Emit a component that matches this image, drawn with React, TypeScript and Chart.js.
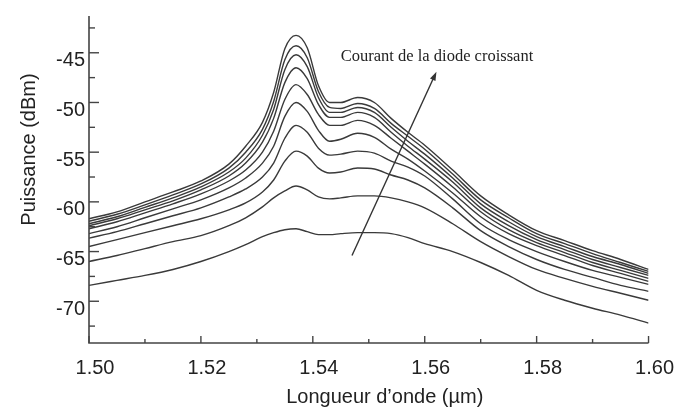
import React, { useEffect, useRef } from "react";
import { Chart, registerables } from "chart.js";

Chart.register(...registerables);

// Wavelength samples (µm)
const wavelengths = [
  1.5, 1.505, 1.51, 1.515, 1.52, 1.525, 1.528, 1.531, 1.533, 1.535, 1.537, 1.539, 1.541, 1.543,
  1.545, 1.548, 1.551, 1.554, 1.557, 1.56, 1.565, 1.57, 1.575, 1.58, 1.585, 1.59, 1.595, 1.6,
];

// Spectra (dBm), from highest diode current to lowest
const current1 = [
  -61.7, -61.0, -60.0, -59.0, -57.9, -56.2, -54.4, -52.0, -49.0, -44.6, -43.25, -44.5, -48.3, -50.0,
  -50.0, -49.5, -50.0, -51.6, -53.0, -54.3, -56.8, -59.4, -61.3, -62.9, -63.9, -64.9, -65.8, -66.8,
];
const current2 = [
  -61.95, -61.25, -60.3, -59.3, -58.2, -56.6, -55.0, -52.7, -49.9, -45.7, -44.3, -45.5, -48.9, -50.5,
  -50.6, -50.1, -50.6, -52.1, -53.4, -54.7, -57.2, -59.8, -61.6, -63.2, -64.2, -65.2, -66.1, -67.0,
];
const current3 = [
  -62.2, -61.5, -60.55, -59.6, -58.5, -57.0, -55.6, -53.3, -50.7, -46.7, -45.2, -46.4, -49.5, -51.0,
  -51.0, -50.5, -51.0, -52.5, -53.9, -55.2, -57.6, -60.2, -62.0, -63.5, -64.5, -65.5, -66.3, -67.2,
];
const current4 = [
  -62.4, -61.7, -60.8, -59.9, -58.8, -57.4, -56.1, -54.0, -51.6, -48.0, -46.5, -47.6, -50.2, -51.5,
  -51.5, -51.0, -51.5, -53.0, -54.4, -55.7, -58.0, -60.6, -62.4, -63.8, -64.8, -65.8, -66.6, -67.4,
];
const current5 = [
  -62.7, -62.0, -61.1, -60.2, -59.2, -57.9, -56.8, -55.0, -52.9, -49.7, -48.2, -49.2, -51.2, -52.3,
  -52.3, -51.8, -52.3, -53.6, -54.9, -56.2, -58.5, -61.0, -62.8, -64.1, -65.1, -66.1, -66.9, -67.7,
];
const current6 = [
  -63.2, -62.5, -61.6, -60.7, -59.8, -58.6, -57.6, -56.1, -54.4, -51.4, -50.0, -50.9, -52.8, -53.9,
  -53.7, -53.1, -53.5, -54.7, -55.7, -56.9, -59.1, -61.5, -63.2, -64.4, -65.4, -66.4, -67.2, -68.0,
];
const current7 = [
  -63.65, -63.0, -62.2, -61.4, -60.6, -59.5, -58.7, -57.5, -56.1, -53.6, -52.3, -53.0, -54.6, -55.3,
  -55.2, -54.9, -55.1, -55.9, -56.5, -57.4, -59.7, -62.2, -63.8, -65.0, -66.0, -66.9, -67.6, -68.3,
];
const current8 = [
  -64.5, -63.8, -63.1, -62.4, -61.7, -60.8, -60.1, -59.0, -57.8, -55.9, -54.9, -55.4, -56.6, -57.1,
  -57.0, -56.6, -56.7, -57.3, -57.8, -58.6, -60.6, -62.9, -64.5, -65.8, -66.8, -67.6, -68.4, -69.0,
];
const current9 = [
  -66.0, -65.4, -64.7, -64.0, -63.4, -62.4, -61.6, -60.5, -59.6, -58.9, -58.4, -58.8, -59.5, -59.7,
  -59.6, -59.4, -59.4, -59.6, -60.0, -60.6, -62.2, -64.0, -65.5, -66.8, -67.7, -68.5, -69.2, -69.9,
];
const current10 = [
  -68.4, -67.9, -67.4, -66.8, -66.0, -65.0, -64.3, -63.5, -63.1, -62.8, -62.7, -63.0, -63.3, -63.3,
  -63.2, -63.1, -63.1, -63.2, -63.6, -64.2, -65.0, -66.1, -67.4, -68.9, -69.9, -70.7, -71.4, -72.2,
];

const seriesList = [
  current1, current2, current3, current4, current5,
  current6, current7, current8, current9, current10,
];

// Axis ticks
const xMajorTicks = [1.5, 1.52, 1.54, 1.56, 1.58, 1.6];
const xMinorTicks = [1.51, 1.53, 1.55, 1.57, 1.59];
const yMajorTicks = [-70, -65, -60, -55, -50, -45];
const yMinorTicks = [-72.5, -67.5, -62.5, -57.5, -52.5, -47.5, -42.5];

// Texts
const xTitle = "Longueur d\u2019onde (\u00b5m)";
const yTitle = "Puissance (dBm)";
const annotationText = "Courant de la diode croissant";

// Annotation anchors in data space
const annotationAnchor = { x: 1.545, y: -45.87 };
const arrowFrom = { x: 1.547, y: -65.4 };
const arrowTo = { x: 1.5621, y: -46.9 };

const SANS = '"Liberation Sans", Arial, sans-serif';
const SERIF = '"Liberation Serif", "Times New Roman", serif';

const decorPlugin = {
  id: "decor",
  afterDraw(chart: any) {
    const { ctx, chartArea: a, scales } = chart;
    const xs = scales.x;
    const ys = scales.y;
    ctx.save();
    // axes
    ctx.strokeStyle = "#444";
    ctx.lineWidth = 1.6;
    ctx.beginPath();
    ctx.moveTo(a.left, a.top);
    ctx.lineTo(a.left, a.bottom);
    ctx.lineTo(a.right, a.bottom);
    ctx.stroke();
    ctx.lineWidth = 1.4;
    const seg = (x1: number, y1: number, x2: number, y2: number) => {
      ctx.beginPath();
      ctx.moveTo(x1, y1);
      ctx.lineTo(x2, y2);
      ctx.stroke();
    };
    yMajorTicks.forEach((v) => {
      const p = ys.getPixelForValue(v);
      seg(a.left, p, a.left + 10, p);
    });
    yMinorTicks.forEach((v) => {
      const p = ys.getPixelForValue(v);
      seg(a.left, p, a.left + 6, p);
    });
    xMajorTicks.forEach((v) => {
      const p = xs.getPixelForValue(v);
      seg(p, a.bottom, p, a.bottom - 7);
    });
    xMinorTicks.forEach((v) => {
      const p = xs.getPixelForValue(v);
      seg(p, a.bottom, p, a.bottom - 4);
    });

    // axis titles
    ctx.fillStyle = "#222";
    ctx.font = `20px ${SANS}`;
    ctx.textAlign = "center";
    ctx.textBaseline = "alphabetic";
    ctx.fillText(xTitle, (a.left + a.right) / 2 + 16, a.bottom + 60);
    ctx.save();
    ctx.translate(a.left - 54, (a.top + a.bottom) / 2 - 30);
    ctx.rotate(-Math.PI / 2);
    ctx.fillText(yTitle, 0, 0);
    ctx.restore();

    // annotation text
    ctx.font = `16.5px ${SERIF}`;
    ctx.textAlign = "left";
    ctx.fillStyle = "#222";
    ctx.fillText(
      annotationText,
      xs.getPixelForValue(annotationAnchor.x),
      ys.getPixelForValue(annotationAnchor.y)
    );

    // arrow
    const x1 = xs.getPixelForValue(arrowFrom.x);
    const y1 = ys.getPixelForValue(arrowFrom.y);
    const x2 = xs.getPixelForValue(arrowTo.x);
    const y2 = ys.getPixelForValue(arrowTo.y);
    const ang = Math.atan2(y2 - y1, x2 - x1);
    const headLen = 9;
    const headW = 3;
    ctx.strokeStyle = "#333";
    ctx.lineWidth = 1.4;
    seg(x1, y1, x2 - Math.cos(ang) * headLen * 0.6, y2 - Math.sin(ang) * headLen * 0.6);
    ctx.fillStyle = "#333";
    ctx.beginPath();
    ctx.moveTo(x2, y2);
    ctx.lineTo(
      x2 - Math.cos(ang) * headLen - Math.sin(ang) * headW,
      y2 - Math.sin(ang) * headLen + Math.cos(ang) * headW
    );
    ctx.lineTo(
      x2 - Math.cos(ang) * headLen + Math.sin(ang) * headW,
      y2 - Math.sin(ang) * headLen - Math.cos(ang) * headW
    );
    ctx.closePath();
    ctx.fill();
    ctx.restore();
  },
};

export default function App() {
  const canvasRef = useRef<HTMLCanvasElement | null>(null);

  useEffect(() => {
    if (!canvasRef.current) return;
    const datasets = seriesList.map((s, i) => ({
      label: `I${i + 1}`,
      data: wavelengths.map((w, j) => ({ x: w, y: s[j] })),
      borderColor: "#3a3a3a",
      borderWidth: 1.4,
      pointRadius: 0,
      fill: false,
      cubicInterpolationMode: "monotone" as const,
    }));
    const chart = new Chart(canvasRef.current, {
      type: "line",
      data: { datasets },
      plugins: [decorPlugin],
      options: {
        animation: false,
        responsive: true,
        maintainAspectRatio: false,
        layout: { padding: { left: 0, right: 30, top: 10, bottom: 0 } },
        plugins: {
          legend: { display: false },
          tooltip: { enabled: false },
        },
        scales: {
          x: {
            type: "linear",
            min: 1.5,
            max: 1.6,
            border: { display: false },
            grid: { display: false, drawTicks: false },
            afterFit: (s: any) => {
              s.height = 67;
            },
            afterBuildTicks: (s: any) => {
              s.ticks = xMajorTicks.map((v) => ({ value: v }));
            },
            ticks: {
              padding: 13,
              labelOffset: 6,
              color: "#222",
              font: { family: SANS, size: 20 },
              maxRotation: 0,
              autoSkip: false,
              callback: (v: any) => Number(v).toFixed(2),
            },
          },
          y: {
            type: "linear",
            min: -74.2,
            max: -41.3,
            border: { display: false },
            grid: { display: false, drawTicks: false },
            afterFit: (s: any) => {
              s.width = 89;
            },
            afterBuildTicks: (s: any) => {
              s.ticks = yMajorTicks.map((v) => ({ value: v }));
            },
            ticks: {
              padding: 4,
              labelOffset: 8,
              color: "#222",
              font: { family: SANS, size: 20 },
              autoSkip: false,
              callback: (v: any) => String(v),
            },
          },
        },
      },
    });
    return () => chart.destroy();
  }, []);

  return (
    <div
      style={{
        position: "fixed",
        left: 0,
        top: 0,
        width: 681,
        height: 410,
        background: "#fff",
      }}
    >
      <canvas ref={canvasRef} />
    </div>
  );
}
